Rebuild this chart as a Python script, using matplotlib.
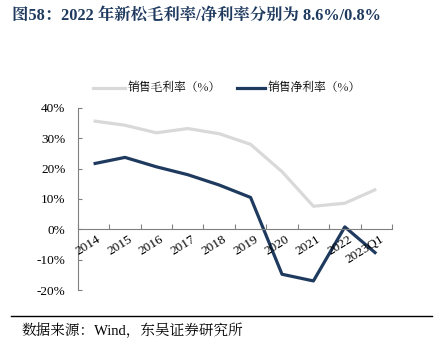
import matplotlib.pyplot as plt
from matplotlib.lines import Line2D

# data
periods = ["2014", "2015", "2016", "2017", "2018", "2019", "2020", "2021", "2022", "2023Q1"]
gross_margin = [35.7, 34.3, 31.8, 33.2, 31.5, 28.0, 19.0, 7.6, 8.6, 13.2]
net_margin = [21.6, 23.7, 20.6, 18.0, 14.6, 10.5, -14.8, -17.0, 0.8, -8.0]
y_ticks = [-20, -10, 0, 10, 20, 30, 40]

serif = ["Liberation Serif", "Noto Serif CJK SC", "Noto Sans CJK SC"]
cjk = ["Noto Serif CJK SC", "Noto Sans CJK SC", "Liberation Serif"]
mixed = ["Liberation Serif", "Noto Serif CJK SC", "Noto Sans CJK SC"]
navy = "#1F3A5F"
gray = "#D9D9D9"

fig = plt.figure(figsize=(4.35, 3.55), dpi=100)
ax = fig.add_axes([0.179, 0.183, 0.722, 0.513])

x = [i + 0.5 for i in range(len(periods))]
ax.plot(x, gross_margin, color=gray, lw=2.3, solid_capstyle="butt")
ax.plot(x, net_margin, color=navy, lw=2.3, solid_capstyle="butt")

ax.set_xlim(0, len(periods))
ax.set_ylim(-20, 40)
ax.set_yticks(y_ticks)
ax.set_yticklabels([f"{v}%" for v in y_ticks], family=serif, fontsize=9.5)

# x axis sits on the zero line, ticks at category boundaries
ax.spines["bottom"].set_position(("data", 0))
ax.set_xticks(range(len(periods) + 1))
ax.set_xticklabels([])
ax.tick_params(axis="x", direction="in", length=3.5, color="#808080")
ax.tick_params(axis="y", direction="in", length=3, color="#808080", pad=9)
for side in ["top", "right"]:
    ax.spines[side].set_visible(False)
for side in ["left", "bottom"]:
    ax.spines[side].set_color("#808080")
    ax.spines[side].set_linewidth(0.8)

for xi, lab in zip(x, periods):
    ax.text(xi + 0.1, -1.3, lab, rotation=32, ha="right", va="top",
            rotation_mode="anchor", family=serif, fontsize=9.5)

# legend drawn above the plot
fig.add_artist(Line2D([0.214, 0.287], [0.752, 0.752], color=gray, lw=2.3))
fig.text(0.294, 0.752, "销售毛利率（%）", family=cjk, fontsize=8.5, va="center")
fig.add_artist(Line2D([0.545, 0.609], [0.752, 0.752], color=navy, lw=2.3))
fig.text(0.616, 0.752, "销售净利率（%）", family=cjk, fontsize=8.5, va="center")

fig.text(0.028, 0.955, "图58：2022 年新松毛利率/净利率分别为 8.6%/0.8%",
         family=mixed, fontsize=11.8, fontweight="bold", color=navy, va="center")

fig.add_artist(Line2D([0.025, 0.992], [0.111, 0.111], color="black", lw=1.0))
fig.text(0.05, 0.07, "数据来源：Wind，东吴证券研究所", family=mixed, fontsize=10.5, va="center")

fig.savefig("out.png", dpi=100)
